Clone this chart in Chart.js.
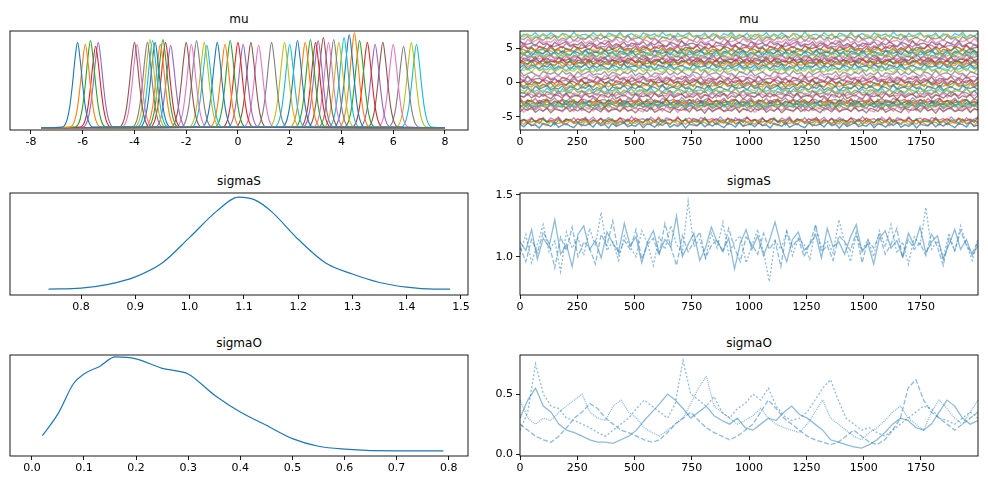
<!DOCTYPE html>
<html><head><meta charset="utf-8">
<script src="https://cdn.jsdelivr.net/npm/chart.js@4"></script>
<style>
body{margin:0;background:#fff;width:988px;height:490px;position:relative;font-family:"DejaVu Sans",sans-serif;overflow:hidden}
canvas{position:absolute}
.t{position:absolute;font-size:12px;color:#000;text-align:center;width:458px;line-height:14px}
</style></head><body>
<script>
// ---------- data ----------
const muCenters=[-6.2,-5.9,-5.7,-5.5,-5.4,-4.0,-3.9,-3.5,-3.4,-3.3,-3.2,-3.0,-2.9,-2.8,-2.6,-2.0,-1.8,-1.6,-1.3,-1.2,-0.8,-0.5,-0.3,0.0,0.2,0.5,0.8,1.3,1.8,2.0,2.3,2.6,2.8,3.0,3.1,3.3,3.5,3.7,3.9,4.1,4.3,4.5,4.7,5.0,5.3,5.6,6.0,6.4,6.7,6.9];
const muHeights=[0.9,0.88,0.92,0.86,0.9,0.9,0.88,0.9,0.93,0.92,0.9,0.88,0.93,0.9,0.87,0.9,0.88,0.92,0.9,0.87,0.9,0.88,0.92,0.9,0.88,0.9,0.87,0.9,0.9,0.88,0.92,0.9,0.93,0.9,0.92,0.95,0.9,0.93,0.9,0.95,0.98,1.0,0.92,0.9,0.88,0.9,0.88,0.86,0.9,0.88];
const kdeOffsets=[-0.6,-0.5,-0.4,-0.3,-0.2,-0.1,0,0.1,0.2,0.3,0.4,0.5,0.6];
const kdeProfile=[0.01,0.03,0.1,0.25,0.5,0.8,1,0.8,0.5,0.25,0.1,0.03,0.01];
const muWiggle=[0.3,-0.5,0.8,-0.2,0.1,-0.9,0.6,0.2,-0.4,0.9,-0.7,0.0,0.5,-0.3,-0.8,0.7,0.1,-0.1,0.4,-0.6,0.9,-0.2,0.3,-1.0,0.6,-0.4,0.2,0.8,-0.5,0.0,
 -0.3,0.7,-0.8,0.4,0.1,-0.6,0.5,-0.1,0.9,-0.7,0.2,-0.4,0.6,-0.9,0.3,0.0,-0.2,0.8,-0.5,0.4,-0.3,0.7,-0.1,-0.8,0.5,0.2,-0.6,1.0,-0.4,0.1];

const sigmaSX=[0.74,0.8,0.85,0.9,0.95,1.0,1.05,1.09,1.12,1.15,1.2,1.25,1.3,1.35,1.4,1.45,1.48];
const sigmaSY=[0.02,0.03,0.07,0.15,0.3,0.57,0.85,1.0,0.97,0.85,0.55,0.3,0.18,0.09,0.04,0.02,0.02];
const sigmaOX=[0.02,0.05,0.08,0.1,0.13,0.16,0.2,0.25,0.28,0.3,0.35,0.4,0.45,0.5,0.55,0.6,0.7,0.79];
const sigmaOY=[0.17,0.4,0.72,0.82,0.9,1.0,0.98,0.88,0.85,0.82,0.6,0.42,0.28,0.14,0.06,0.03,0.01,0.01];

const sigmaSTrace=[
[1.12,1.05,1.22,0.98,1.15,1.08,1.30,1.02,1.10,0.92,1.18,1.25,1.06,1.13,0.99,1.20,1.11,1.04,1.27,1.09,1.16,0.95,1.12,1.21,1.03,1.14,1.08,1.33,1.00,1.10,1.19,0.97,1.07,1.24,1.12,1.05,1.15,0.90,1.11,1.22,1.06,1.17,1.01,1.13,1.28,1.09,0.96,1.14,1.20,1.05,1.10,1.18,0.99,1.23,1.08,1.12,1.02,1.16,1.26,1.04,1.11,0.94,1.15,1.21,1.07,1.13,1.00,1.19,1.09,1.24,1.03,1.12,1.17,0.98,1.10,1.22,1.06,1.14,1.01,1.09],
[1.02,1.18,0.95,1.10,1.26,1.04,1.13,0.88,1.20,1.07,1.15,1.01,1.23,1.09,1.36,1.05,1.12,0.97,1.17,1.08,1.00,1.21,1.11,0.93,1.16,1.06,1.25,1.10,1.03,1.45,1.08,1.14,0.99,1.19,1.07,1.28,1.02,1.12,1.17,0.95,1.09,1.22,1.04,0.80,1.13,1.06,1.20,1.01,1.15,1.10,0.98,1.24,1.07,1.13,1.03,1.30,1.11,0.96,1.18,1.05,1.14,1.00,1.21,1.08,1.26,1.03,1.12,0.94,1.16,1.09,1.40,1.06,1.13,0.99,1.19,1.04,1.25,1.10,0.97,1.15],
[1.08,0.96,1.14,1.03,1.20,1.11,0.91,1.16,1.05,1.24,1.00,1.12,1.07,0.94,1.18,1.09,1.29,1.02,1.13,1.06,1.22,0.98,1.10,1.15,1.01,1.27,1.08,0.93,1.17,1.04,1.12,1.20,0.99,1.09,1.14,1.03,1.23,1.07,0.96,1.16,1.10,1.02,1.19,1.06,1.13,0.92,1.21,1.08,1.15,1.00,1.11,1.26,1.04,1.09,0.97,1.17,1.12,1.05,1.20,0.95,1.13,1.07,1.18,1.02,1.10,1.23,0.99,1.14,1.06,1.11,1.01,1.19,1.08,0.93,1.15,1.05,1.21,1.09,1.03,1.12]];
const sigmaOTrace=[
[0.30,0.45,0.55,0.40,0.35,0.25,0.20,0.18,0.15,0.12,0.10,0.10,0.09,0.12,0.15,0.20,0.28,0.35,0.42,0.50,0.45,0.38,0.30,0.35,0.40,0.32,0.28,0.25,0.30,0.22,0.20,0.25,0.30,0.28,0.35,0.40,0.33,0.30,0.25,0.20,0.12,0.10,0.08,0.06,0.05,0.08,0.12,0.18,0.25,0.30,0.28,0.22,0.20,0.25,0.35,0.45,0.40,0.30,0.25,0.28],
[0.20,0.35,0.75,0.50,0.40,0.38,0.30,0.28,0.25,0.22,0.18,0.15,0.20,0.25,0.30,0.38,0.45,0.40,0.35,0.30,0.42,0.78,0.50,0.45,0.40,0.48,0.35,0.30,0.38,0.42,0.50,0.45,0.55,0.40,0.32,0.28,0.30,0.35,0.45,0.55,0.62,0.45,0.30,0.25,0.20,0.22,0.18,0.15,0.20,0.25,0.30,0.35,0.40,0.38,0.30,0.28,0.25,0.30,0.35,0.30],
[0.25,0.20,0.15,0.12,0.10,0.15,0.22,0.30,0.35,0.42,0.38,0.30,0.25,0.20,0.18,0.15,0.12,0.10,0.12,0.18,0.25,0.30,0.35,0.28,0.22,0.18,0.15,0.12,0.15,0.20,0.25,0.35,0.45,0.38,0.30,0.25,0.20,0.15,0.12,0.10,0.08,0.10,0.15,0.20,0.15,0.10,0.08,0.12,0.20,0.30,0.55,0.62,0.45,0.35,0.30,0.25,0.20,0.25,0.30,0.35],
[0.45,0.30,0.25,0.30,0.28,0.35,0.40,0.45,0.50,0.35,0.30,0.28,0.40,0.45,0.35,0.30,0.22,0.18,0.15,0.20,0.25,0.30,0.42,0.55,0.65,0.40,0.35,0.30,0.25,0.28,0.32,0.38,0.30,0.25,0.22,0.20,0.18,0.25,0.35,0.45,0.30,0.25,0.20,0.15,0.12,0.18,0.22,0.28,0.35,0.40,0.30,0.25,0.20,0.35,0.45,0.38,0.30,0.25,0.35,0.45]];
const nDraws=2000;
const drawTicks=[0,250,500,750,1000,1250,1500,1750];
const muKdeTicks=[-8,-6,-4,-2,0,2,4,6,8];
const muTraceTicks=[-5,0,5];
const sigmaSKdeTicks=[0.8,0.9,1.0,1.1,1.2,1.3,1.4,1.5];
const sigmaSTraceTicks=[1.0,1.5];
const sigmaOKdeTicks=[0.0,0.1,0.2,0.3,0.4,0.5,0.6,0.7,0.8];
const sigmaOTraceTicks=[0.0,0.5];
const tab10=['#1f77b4','#ff7f0e','#2ca02c','#d62728','#9467bd','#8c564b','#e377c2','#7f7f7f','#bcbd22','#17becf'];
const titles=['mu','mu','sigmaS','sigmaS','sigmaO','sigmaO'];

// ---------- helpers ----------
Chart.defaults.font.family='"DejaVu Sans", sans-serif';
Chart.defaults.font.size=11;
Chart.defaults.color='#000';
Chart.defaults.animation=false;
const frame={id:'frame',afterDraw(c){const a=c.chartArea,x=c.ctx;x.save();x.strokeStyle='#000';x.lineWidth=0.9;x.strokeRect(a.left,a.top,a.right-a.left,a.bottom-a.top);x.restore();}};
function toXY(xs,ys){return xs.map((v,i)=>({x:v,y:ys[i]}));}
function traceXY(arr){return arr.map((v,i)=>({x:i*(nDraws-1)/(arr.length-1),y:v}));}
function addTitle(txt,l,t){const d=document.createElement('div');d.className='t';d.textContent=txt;d.style.left=l+'px';d.style.top=(t-19)+'px';document.body.appendChild(d);}
function panel(r,datasets,xs,ys,yShow){
  const yw=yShow?28:0,pad=12,xh=22;
  const cv=document.createElement('canvas');
  const W=r.w+yw+2*pad,H=r.h+4+xh;
  cv.style.left=(r.l-yw-pad)+'px';cv.style.top=(r.t-4)+'px';
  cv.style.width=W+'px';cv.style.height=H+'px';cv.width=W;cv.height=H;
  document.body.appendChild(cv);
  const tick={display:true,drawOnChartArea:false,drawTicks:true,tickLength:4,color:'#000',lineWidth:0.9};
  const fmt=xs.fmt||(v=>String(v));
  const fmty=ys.fmt||(v=>String(v));
  new Chart(cv,{type:'line',data:{datasets},plugins:[frame],options:{
    responsive:false,devicePixelRatio:1,
    layout:{padding:{left:pad,right:pad,top:4,bottom:0}},
    plugins:{legend:{display:false},tooltip:{enabled:false}},
    elements:{point:{radius:0}},
    scales:{
      x:Object.assign({type:'linear',grid:tick,border:{display:false},
        ticks:{maxRotation:0,padding:2,autoSkip:false,callback:v=>fmt(v)},
        afterBuildTicks(s){s.ticks=xs.ticks.map(v=>({value:v}));},
        afterFit(s){s.height=xh;s.paddingLeft=0;s.paddingRight=0;}},xs.range),
      y:Object.assign({type:'linear',display:yShow,grid:tick,border:{display:false},
        ticks:{padding:3,callback:v=>fmty(v)},
        afterBuildTicks(s){s.ticks=(ys.ticks||[]).map(v=>({value:v}));},
        afterFit(s){s.width=yw;s.paddingTop=0;s.paddingBottom=0;}},ys.range)
    }}});
}
const L=10,R=520,W=458;
const rows=[{t:31},{t:193},{t:355}];
[[L,0],[R,1],[L,2],[R,3],[L,4],[R,5]].forEach(([l,i])=>addTitle(titles[i],l,rows[Math.floor(i/2)].t));
const f1=v=>v.toFixed(1);

// mu KDE
const muKde=muCenters.map((c,i)=>({data:[{x:-7.6,y:0.003}].concat(kdeOffsets.map((o,k)=>({x:c+o,y:kdeProfile[k]*muHeights[i]}))).concat([{x:8,y:0.003}]),
  borderColor:tab10[i%10],borderWidth:1.1,tension:0.4,cubicInterpolationMode:'monotone'}));
panel({l:L,t:31,w:W,h:99},muKde,{range:{min:-8.81,max:8.89},ticks:muKdeTicks},{range:{min:-0.021,max:1.02}},false);
// mu trace
const muTr=muCenters.map((c,i)=>{const n=muWiggle.length;const pts=[];for(let k=0;k<2*n;k++){pts.push({x:k*(nDraws-1)/(2*n-1),y:c+0.45*muWiggle[(k+i*7)%n]});}
  return {data:pts,borderColor:tab10[i%10]+'bb',borderWidth:1.4};});
panel({l:R,t:31,w:W,h:99},muTr,{range:{min:0,max:1999},ticks:drawTicks},{range:{min:-6.9,max:7.5},ticks:muTraceTicks},true);
// sigmaS
panel({l:L,t:193,w:W,h:102},[{data:toXY(sigmaSX,sigmaSY),borderColor:'#1f77b4',borderWidth:1.2,tension:0.4,cubicInterpolationMode:'monotone'}],
  {range:{min:0.669,max:1.513},ticks:sigmaSKdeTicks,fmt:f1},{range:{min:-0.0435,max:1.0435}},false);
const dashes=[[],[2,2],[5,2]];
panel({l:R,t:193,w:W,h:102},sigmaSTrace.map((a,i)=>({data:traceXY(a),borderColor:'rgba(31,119,180,0.5)',borderWidth:1.3,borderDash:dashes[i%3]})),
  {range:{min:0,max:1999},ticks:drawTicks},{range:{min:0.69,max:1.516},ticks:sigmaSTraceTicks,fmt:f1},true);
// sigmaO
panel({l:L,t:355,w:W,h:101},[{data:toXY(sigmaOX,sigmaOY),borderColor:'#1f77b4',borderWidth:1.2,tension:0.4,cubicInterpolationMode:'monotone'}],
  {range:{min:-0.042,max:0.837},ticks:sigmaOKdeTicks,fmt:f1},{range:{min:-0.043,max:1.02}},false);
const dashes4=[[],[2,2],[5,2],[1,1]];
panel({l:R,t:355,w:W,h:101},sigmaOTrace.map((a,i)=>({data:traceXY(a),borderColor:'rgba(31,119,180,0.5)',borderWidth:1.3,borderDash:dashes4[i]})),
  {range:{min:0,max:1999},ticks:drawTicks},{range:{min:-0.015,max:0.825},ticks:sigmaOTraceTicks,fmt:f1},true);
</script>
</body></html>
